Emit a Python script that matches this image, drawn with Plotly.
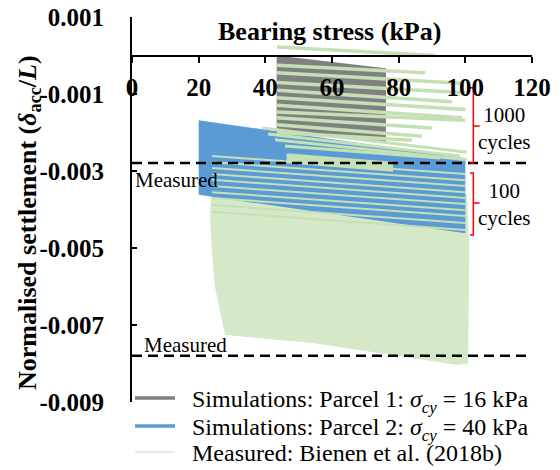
import plotly.graph_objects as go

# ---------------- data ----------------
# Simulations, Parcel 1 (grey band of loops): corners
p1_x = [43.4, 76.2, 76.2, 43.4]
p1_y = [0.0, -0.00033, -0.00224, -0.00194]

# Simulations, Parcel 2 (blue band of loops): corners
p2_x = [20, 100, 100, 20]
p2_y = [-0.00168, -0.00267, -0.00462, -0.00362]

# Measured (Bienen et al. 2018b): dense part outline
meas_x = [24.0, 100.5, 101.2, 100.8, 97.5, 74.4, 54.3, 27.9, 27.0, 24.9, 24.0, 23.4]
meas_y = [-0.0030, -0.0036, -0.0050, -0.0080, -0.00804, -0.00773, -0.00747,
          -0.00726, -0.00687, -0.00601, -0.00513, -0.00427]

# Measured: light block near -0.0028
blob_x = [46.4, 78.3, 78.3, 46.4]
blob_y = [-0.00254, -0.00276, -0.00302, -0.0028]

# Measured: individual loops in the upper (sparse) part
up_x0 = [43.5, 43.5, 43.5, 43.5, 43.5, 43.5, 43.5, 43.5, 43.5, 43.5, 43.5]
up_x1 = [91, 88, 99, 100, 96, 100, 99, 100, 90, 87, 84]
up_y0 = [0.00022, -0.00025, -0.00045, -0.0007, -0.0009, -0.0011, -0.00129,
         -0.00147, -0.00162, -0.0018, -0.0020]
up_y1 = [0.0, -0.00045, -0.00072, -0.00097, -0.0012, -0.0014, -0.00162,
         -0.00168, -0.00188, -0.0021, -0.0022]

# Measured: loops crossing the blue band (upper part)
mb_x0 = [39.0, 40.8, 42.9, 45.9]
mb_x1 = [100.5, 98.4, 100.5, 92.4]
mb_y0 = [-0.00188, -0.00204, -0.00219, -0.00235]
mb_y1 = [-0.00251, -0.00261, -0.00271, -0.00266]

# Measured: loops crossing the blue band (lower part)
lb_x0 = [24, 24, 24, 24, 24, 24, 24, 24, 24, 24]
lb_x1 = [100, 100, 100, 100, 100, 100, 100, 100, 100, 100]
lb_y0 = [-0.00261, -0.00277, -0.00292, -0.00308, -0.00323, -0.00339,
         -0.00355, -0.0037, -0.00388, -0.00406]
lb_y1 = [-0.00308, -0.00324, -0.00339, -0.00355, -0.0037, -0.00386,
         -0.00402, -0.00417, -0.00435, -0.00453]

# Measured settlement levels (dashed lines)
measured_levels = [-0.00279, -0.0078]
measured_x = [0, 118.5]

# Red brackets (1000 cycles / 100 cycles)
br_top = [-0.00084, -0.00305]
br_mid = [-0.00183, -0.00383]
br_bot = [-0.00279, -0.00466]
br_labels = ["1000<br>cycles", "100<br>cycles"]
br_label_y = [-0.0019, -0.00386]

x_ticks = [0, 20, 40, 60, 80, 100, 120]
y_ticks = [0.001, -0.001, -0.003, -0.005, -0.007, -0.009]
y_ticktext = ["0.001", "-0.001", "-0.003", "-0.005", "-0.007", "-0.009"]

legend_names = ["\u00a0\u00a0Simulations: Parcel 1: <i>σ</i><sub><i>cy</i></sub> = 16 kPa",
                "\u00a0\u00a0Simulations: Parcel 2: <i>σ</i><sub><i>cy</i></sub> = 40 kPa",
                "\u00a0\u00a0Measured: Bienen et al. (2018b)"]

GREY = "#808080"
BLUE = "#5b9bd5"
GREEN = "#c5e0b4"
SERIF = "Liberation Serif"

fig = go.Figure()

# dense measured region
fig.add_trace(go.Scatter(x=meas_x + [meas_x[0]], y=meas_y + [meas_y[0]], mode="lines",
                         fill="toself", fillcolor="#d5e9c9", line=dict(width=0, color=GREEN),
                         showlegend=False, hoverinfo="skip"))
# blue band
fig.add_trace(go.Scatter(x=p2_x + [p2_x[0]], y=p2_y + [p2_y[0]], mode="lines",
                         fill="toself", fillcolor=BLUE, line=dict(width=0, color=BLUE),
                         showlegend=False, hoverinfo="skip"))
# grey band
fig.add_trace(go.Scatter(x=p1_x + [p1_x[0]], y=p1_y + [p1_y[0]], mode="lines",
                         fill="toself", fillcolor=GREY, line=dict(width=0, color=GREY),
                         showlegend=False, hoverinfo="skip"))

def add_loops(x0, x1, y0, y1, width):
    xs, ys = [], []
    for a, b, c, d in zip(x0, x1, y0, y1):
        xs += [a, b, None]
        ys += [c, d, None]
    fig.add_trace(go.Scatter(x=xs, y=ys, mode="lines", line=dict(color=GREEN, width=width),
                             showlegend=False, hoverinfo="skip"))

add_loops(up_x0, up_x1, up_y0, up_y1, 3.5)
add_loops(mb_x0, mb_x1, mb_y0, mb_y1, 3)
add_loops(lb_x0, lb_x1, lb_y0, lb_y1, 2)

# blob
fig.add_trace(go.Scatter(x=blob_x + [blob_x[0]], y=blob_y + [blob_y[0]], mode="lines",
                         fill="toself", fillcolor=GREEN, line=dict(width=0, color=GREEN),
                         showlegend=False, hoverinfo="skip"))

# dashed measured lines
for lv in measured_levels:
    fig.add_trace(go.Scatter(x=measured_x, y=[lv, lv], mode="lines",
                             line=dict(color="black", width=2.5, dash="10px,6px"),
                             showlegend=False, hoverinfo="skip"))

# red brackets
for t, m, b in zip(br_top, br_mid, br_bot):
    fig.add_trace(go.Scatter(x=[101.4, 102.4, 102.4, 104.3, 102.4, 102.4, 101.4],
                             y=[t, t, m, m, m, b, b], mode="lines",
                             line=dict(color="red", width=1.5),
                             showlegend=False, hoverinfo="skip"))

# legend entries (one legend per row for exact spacing)
leg_styles = [dict(color=GREY, width=3.5), dict(color=BLUE, width=3.5), dict(color=GREEN, width=1)]
leg_ids = ["legend", "legend2", "legend3"]
for nm, st, lid in zip(legend_names, leg_styles, leg_ids):
    fig.add_trace(go.Scatter(x=[None], y=[None], mode="lines", line=st, name=nm, legend=lid))

annotations = [
    dict(x=59.25, y=0.9636, xref="x", yref="paper", text="Bearing stress (kPa)",
         showarrow=False, font=dict(family=SERIF, size=26, color="black", weight="bold"),
         xanchor="center", yanchor="middle"),
    dict(x=-0.2575, y=0.465, xref="paper", yref="paper", textangle=-90,
         text="Normalised settlement (<i>δ</i><sub>acc</sub>/<i>L</i>)",
         showarrow=False, font=dict(family=SERIF, size=26, color="black", weight="bold"),
         xanchor="center", yanchor="middle"),
    dict(x=0.3, y=-0.00323, xref="x", yref="y", text="Measured", showarrow=False,
         font=dict(family=SERIF, size=21, color="black"), xanchor="left", yanchor="middle"),
    dict(x=3, y=-0.00752, xref="x", yref="y", text="Measured", showarrow=False,
         font=dict(family=SERIF, size=21, color="black"), xanchor="left", yanchor="middle"),
]
for lab, ly in zip(br_labels, br_label_y):
    annotations.append(dict(x=111.6, y=ly, xref="x", yref="y", text=lab,
                            showarrow=False, font=dict(family=SERIF, size=21, color="black"),
                            xanchor="center", yanchor="middle"))

def leg(y):
    return dict(x=-0.005, y=y, xanchor="left", yanchor="top", bgcolor="rgba(0,0,0,0)",
                font=dict(family=SERIF, size=24, color="black"), itemwidth=40)

# The page body adds an 8px offset; size/margins compensate so the plot area
# sits at x 132..532, y 17..402 in the 560x470 window.
fig.update_layout(
    width=552, height=462,
    margin=dict(l=124, r=28, t=9, b=68, autoexpand=False),
    paper_bgcolor="white", plot_bgcolor="white",
    font=dict(family=SERIF, color="black"),
    showlegend=True,
    legend=leg(0.0675), legend2=leg(-0.0052), legend3=leg(-0.0727),
    annotations=annotations,
    xaxis=dict(range=[0, 120], anchor="free", position=0.9, side="bottom",
               tickvals=x_ticks, ticks="outside", ticklen=6, tickwidth=2, tickcolor="black",
               showline=True, linewidth=2, linecolor="black", showgrid=False, zeroline=False,
               automargin=False, ticklabeloverflow="allow",
               tickfont=dict(family=SERIF, size=25, color="black", weight="bold"),
               ticklabelstandoff=3),
    yaxis=dict(range=[-0.009, 0.001], tickvals=y_ticks, ticktext=y_ticktext,
               ticks="inside", ticklen=5, tickwidth=2, tickcolor="black",
               showline=True, linewidth=2, linecolor="black", showgrid=False, zeroline=False,
               automargin=False, ticklabeloverflow="allow",
               tickfont=dict(family=SERIF, size=25, color="black", weight="bold"),
               ticklabelstandoff=21),
)

fig.write_html("out.html")
